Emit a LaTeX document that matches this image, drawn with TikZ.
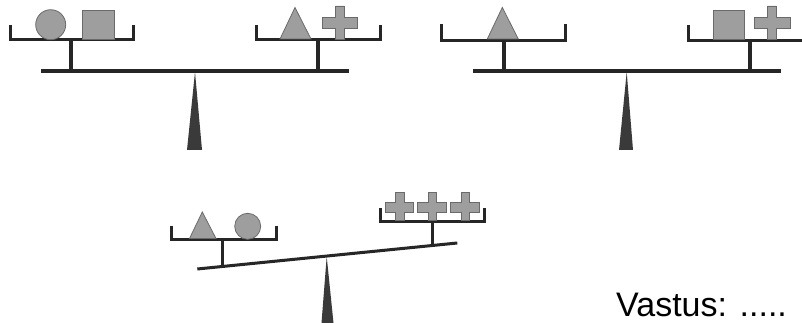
\documentclass[tikz,border=0pt]{standalone}
\usepackage{fontspec}
\setmainfont{Liberation Sans}
\definecolor{barcol}{HTML}{262626}
\definecolor{shapefill}{HTML}{9E9E9E}
\definecolor{shapeline}{HTML}{6A6A6A}
\definecolor{fulcol}{HTML}{3A3A3A}
\tikzset{
  pan/.style={draw=barcol, line width=3pt, line cap=butt, line join=miter},
  stem/.style={draw=barcol, line width=3.5pt},
  beam/.style={draw=barcol, line width=4pt},
  beamthin/.style={draw=barcol, line width=3pt},
  weight/.style={fill=shapefill, draw=shapeline, line width=0.8pt},
  fulcrum/.style={fill=fulcol, draw=none},
}
\newcommand\plusshape[8]{\filldraw[weight] (#2,#5) -- (#3,#5) -- (#3,#6) -- (#4,#6) -- (#4,#7) -- (#3,#7) -- (#3,#8) -- (#2,#8) -- (#2,#7) -- (#1,#7) -- (#1,#6) -- (#2,#6) -- cycle;}
\begin{document}
\begin{tikzpicture}[x=1pt, y=-1pt]
\clip (0,0) rectangle (802,323);
\fill[white] (0,0) rectangle (802,323);
% ---------- scale 1 ----------
\fill[fulcrum] (195,72) -- (202,150) -- (187,150) -- cycle;
\draw[beam] (41,70.7) -- (349,70.7);
\draw[stem] (71,40) -- (71,70);
\draw[stem] (318,40) -- (318,70);
\draw[pan] (10,25) -- (10,40) -- (133.5,40) -- (133.5,25);
\draw[pan] (256,25) -- (256,40) -- (380,40) -- (380,25);
\filldraw[weight] (50.7,24.7) circle (15);
\filldraw[weight] (82.5,10) rectangle (114,39);
\filldraw[weight] (295,7.5) -- (311,39) -- (280,39) -- cycle;
\plusshape{322.5}{335}{344}{357}{6}{17.3}{28.3}{39}
% ---------- scale 2 ----------
\fill[fulcrum] (626.7,72) -- (633,150) -- (619,150) -- cycle;
\draw[beam] (473,70.7) -- (780.7,70.7);
\draw[stem] (504,40) -- (504,70);
\draw[stem] (750,40) -- (750,70);
\draw[pan] (441.7,24) -- (441.7,40.5) -- (565.7,40.5) -- (565.7,24);
\draw[pan] (688,25) -- (688,40.5) -- (812,40.5) -- (812,25);
\filldraw[weight] (502.3,7.5) -- (518.3,39) -- (487.3,39) -- cycle;
\filldraw[weight] (713,10) rectangle (744,39);
\plusshape{754.5}{767}{776.5}{790}{6}{17.3}{28.3}{39}
% ---------- scale 3 ----------
\fill[fulcrum] (326.7,256.5) -- (333.5,323) -- (321.5,323) -- cycle;
\draw[beamthin] (197.3,269) -- (457.3,243);
\draw[stem] (222.7,239) -- (222.7,266.8);
\draw[stem] (432.7,221.5) -- (432.7,245.8);
\draw[pan] (171.7,225.5) -- (171.7,239.3) -- (276.7,239.3) -- (276.7,225.5);
\draw[pan] (380,208.3) -- (380,221.7) -- (484.3,221.7) -- (484.3,208.3);
\filldraw[weight] (202.3,212) -- (216,238.5) -- (189.5,238.5) -- cycle;
\filldraw[weight] (247.7,226.3) circle (13);
\plusshape{385}{395.7}{404}{413.3}{192.7}{202.7}{212.3}{220.5}
\plusshape{417.7}{428.3}{436.7}{446}{192.7}{202.7}{212.3}{220.5}
\plusshape{450}{461}{469.3}{479}{192.7}{202.7}{212.3}{220.5}
% ---------- text ----------
\node[anchor=base west, inner sep=0pt, font=\fontsize{34}{40}\selectfont] (answer) at (616,316.5) {Vastus: .....};
\end{tikzpicture}
\end{document}
